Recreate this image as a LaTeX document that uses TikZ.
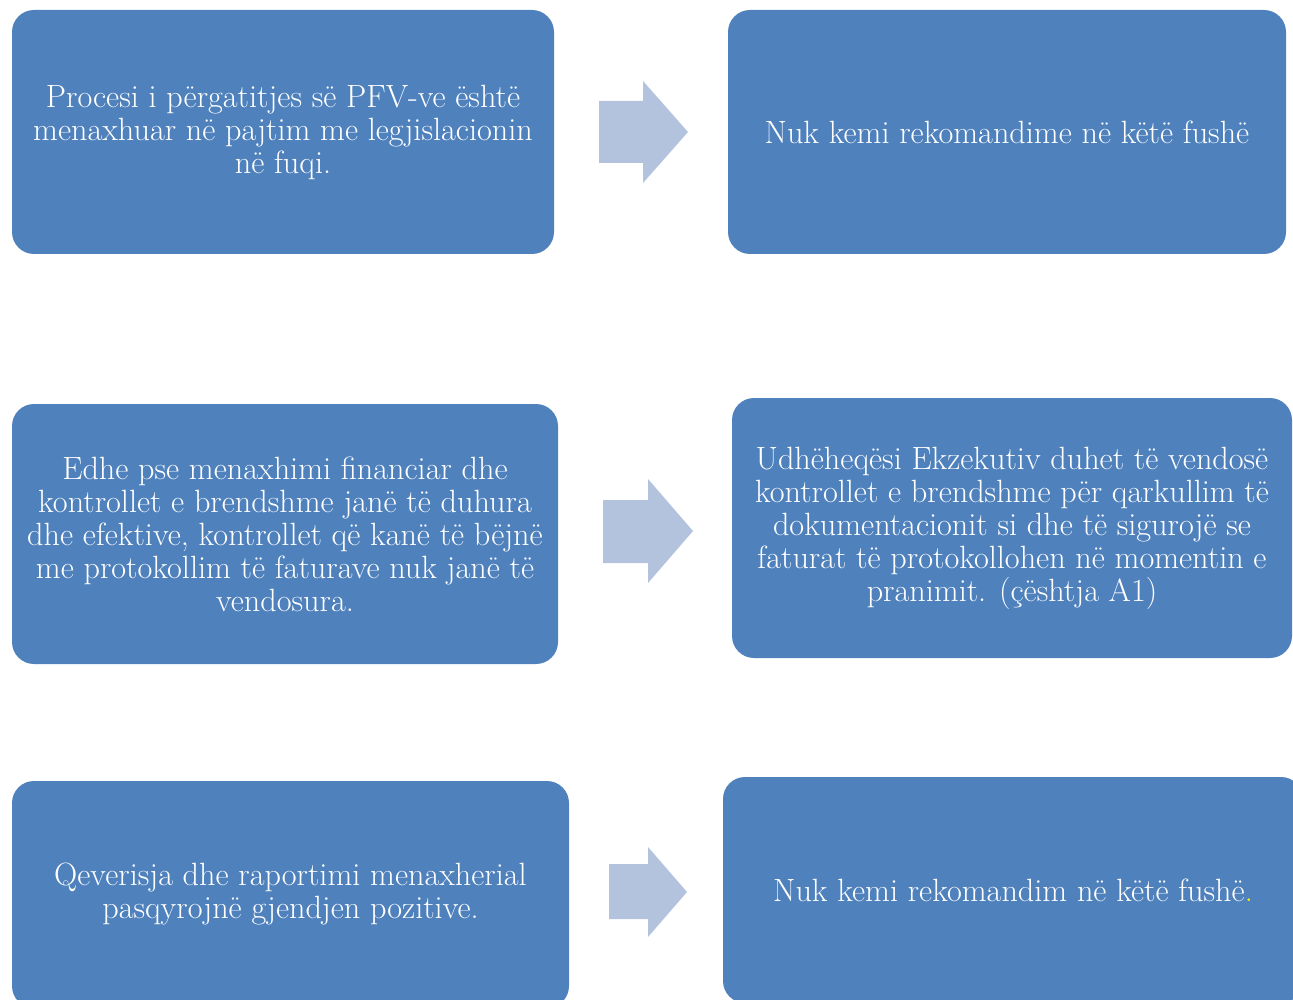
\documentclass[tikz,border=0pt]{standalone}
\usepackage{fontspec}
\usetikzlibrary{positioning}
\definecolor{boxblue}{HTML}{4F81BD}
\definecolor{arrowblue}{HTML}{B3C3DE}
\definecolor{txt}{HTML}{FFFFFF}
\tikzset{
  bx/.style={fill=boxblue, draw=none, rounded corners=22pt, inner sep=0pt, text=txt,
    align=center, font=\fontsize{32.2}{33}\selectfont},
  blockarrow/.style={fill=arrowblue, draw=none}
}
\begin{document}
\begin{tikzpicture}[x=1pt,y=-1pt]
\useasboundingbox (0,0) rectangle (1293,1000);
\clip (0,0) rectangle (1293,1000);
% boxes
\node[bx, minimum width=542pt, minimum height=244pt] (b1) at (283,132)
  {Procesi i përgatitjes së PFV-ve është\\menaxhuar në pajtim me legjislacionin\\në fuqi.};
\node[bx, minimum width=558pt, minimum height=244pt] (b2) at (1007,132)
  {Nuk kemi rekomandime në këtë fushë};
\node[bx, minimum width=546pt, minimum height=260pt] (b3) at (285,534)
  {Edhe pse menaxhimi financiar dhe\\kontrollet e brendshme janë të duhura\\dhe efektive, kontrollet që kanë të bëjnë\\me protokollim të faturave nuk janë të\\vendosura.};
\node[bx, minimum width=560pt, minimum height=260pt] (b4) at (1012,528)
  {Udhëheqësi Ekzekutiv duhet të vendosë\\kontrollet e brendshme për qarkullim të\\dokumentacionit si dhe të sigurojë se\\faturat të protokollohen në momentin e\\pranimit. (çështja A1)};
\node[bx, minimum width=557pt, minimum height=227pt] (b5) at (290.5,894.5)
  {Qeverisja dhe raportimi menaxherial\\pasqyrojnë gjendjen pozitive.};
\node[bx, minimum width=580pt, minimum height=226pt] (b6) at (1013,890)
  {Nuk kemi rekomandim në këtë fushë{\color{yellow}.}};
% block arrows
\fill[blockarrow] (599,101) -- (643,101) -- (643,81) -- (688,132) -- (643,183) -- (643,163) -- (599,163) -- cycle;
\fill[blockarrow] (603,500) -- (648,500) -- (648,479) -- (693,531) -- (648,583) -- (648,563) -- (603,563) -- cycle;
\fill[blockarrow] (609,864) -- (648,864) -- (648,847) -- (687,892) -- (648,937) -- (648,919) -- (609,919) -- cycle;
\end{tikzpicture}
\end{document}
